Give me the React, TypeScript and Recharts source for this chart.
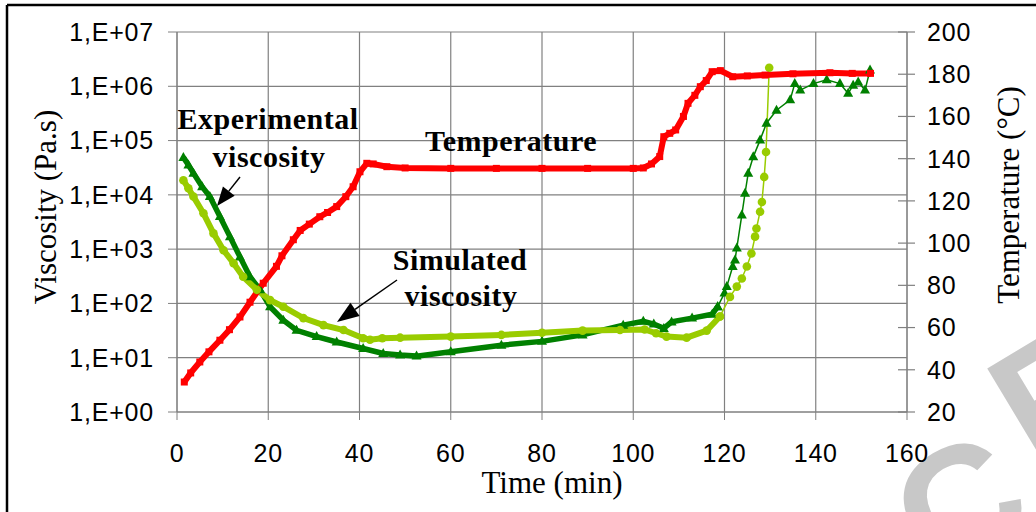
import React from 'react';
import { LineChart, Line, XAxis, YAxis, CartesianGrid } from 'recharts';

// axis ticks
const TIME_TICKS = [0, 20, 40, 60, 80, 100, 120, 140, 160];
const VISC_TICKS = [1, 10, 100, 1000, 10000, 100000, 1000000, 10000000];
const TEMP_TICKS = [20, 40, 60, 80, 100, 120, 140, 160, 180, 200];

// [time (min), temperature (°C)]
const temperature = [
  [1.6, 34.2], [3, 38.5], [5, 43.7], [7, 48.5], [9.4, 54], [11.5, 59], [13.8, 65],
  [16, 72], [18.9, 81], [21.8, 89], [23, 94], [25.5, 101.6], [27, 106], [29, 109],
  [31.3, 112.5], [33, 114.5], [35, 117.3], [37, 122], [38.6, 126.7], [40.1, 133.8],
  [41.6, 137.8], [43, 137.5], [46, 136.2], [50, 135.6], [60, 135.4], [70, 135.4],
  [80, 135.4], [90, 135.4], [100, 135.4], [102.2, 135.6], [104, 137.5], [105.8, 141],
  [106.7, 150.4], [108, 152], [109.3, 153.6], [111, 160], [112, 166.2], [113.5, 170],
  [114.7, 174.1], [116, 177], [117.3, 181.2], [119.1, 181.7], [121.8, 178.8],
  [125, 179.2], [128.9, 179.6], [135, 180.2], [143.1, 180.7], [148, 180.4], [152, 180.4],
];

// experimental viscosity (Pa.s), dense part and the sparse cure ramp
const expDense = [
  [1.4, 49000], [2.5, 35500], [3.6, 25100], [5.5, 14100], [7.2, 9300], [9.4, 4000],
  [11.6, 1700], [13.8, 720], [16, 310], [18.2, 178], [20.4, 87], [23.3, 49], [26.2, 32],
  [30.6, 24.5], [35, 19.5], [40.8, 14.8], [45.2, 12], [48.9, 11.2], [52.5, 10.7],
  [60, 12.9], [71.1, 17], [80, 20], [88.9, 26.3], [97.8, 39.8], [102.2, 46.8],
  [104.5, 41.7], [106.7, 34.7], [108.4, 45.7], [112.9, 53.7], [117.3, 63.1], [118.5, 87.1],
];
const expRamp = [
  [118.5, 87.1], [120, 155], [120.5, 204], [121.8, 479], [122.3, 631], [122.7, 1050],
  [123.8, 4270], [124.5, 10700], [125.2, 25100], [126.3, 50100], [127.8, 102000],
  [129.2, 209000], [131.4, 363000], [134.4, 562000], [135.4, 1120000], [136.6, 851000],
  [139.5, 1120000], [142.4, 1320000], [145.3, 1120000], [147.1, 741000],
  [148.2, 1050000], [149.3, 1200000], [150.8, 851000], [151.9, 2000000],
];

// simulated viscosity (Pa.s)
const simDense = [
  [1.4, 18600], [2.5, 13200], [3.6, 9300], [5.8, 4570], [8, 1950], [10.2, 955],
  [12.4, 550], [14.5, 310], [17.5, 178], [20.4, 115], [23.3, 87], [27.7, 53.7],
  [32.1, 39.8], [36.5, 32.4], [40.8, 22.9], [42.3, 21.4], [45, 22.9], [48.9, 23.4],
  [60, 24.5], [71.1, 26.3], [80, 28.8], [88.9, 31.6], [97.1, 32.4], [102.5, 33.1],
  [105, 28.2], [107.3, 24.5], [111.7, 23.4], [116.1, 31.6], [119, 57.5],
];
const simRamp = [
  [119, 57.5], [121.2, 132], [122.7, 204], [123.8, 288], [124.9, 479], [125.9, 832],
  [126.7, 1700], [127, 2400], [127.8, 4900], [128.2, 7400], [128.7, 21400],
  [129.1, 61700], [129.8, 2190000],
];

const toRows = (pairs) => pairs.map(([t, v]) => ({ t, v }));

const RED = '#FF0000';
const DARK_GREEN = '#008000';
const LIGHT_GREEN = '#99CC00';
const GRID = '#808080';
const SANS = '"Liberation Sans", Arial, sans-serif';
const SERIF = '"Liberation Serif", "Times New Roman", serif';

const tickStyle = { fill: '#000', fontSize: 25, fontFamily: SANS, letterSpacing: 0.8 };

const SquareDot = (props) => {
  const { cx, cy, index } = props;
  if (cx == null || cy == null) return null;
  return <rect key={`sq-${index}`} x={cx - 3.5} y={cy - 3.5} width={7} height={7} fill={RED} />;
};

const TriangleDot = (props) => {
  const { cx, cy, index } = props;
  if (cx == null || cy == null) return null;
  return (
    <polygon
      key={`tr-${index}`}
      points={`${cx},${cy - 5.5} ${cx - 5},${cy + 3.5} ${cx + 5},${cy + 3.5}`}
      fill={DARK_GREEN}
    />
  );
};

const CircleDot = (props) => {
  const { cx, cy, index } = props;
  if (cx == null || cy == null) return null;
  return <circle key={`ci-${index}`} cx={cx} cy={cy} r={4.3} fill={LIGHT_GREEN} />;
};

// right axis tick: the tick mark crosses the axis line, as in the original
const TempTick = (props) => {
  const { x, y, payload } = props;
  const axisX = x - 20;
  return (
    <g>
      <line x1={axisX - 9} y1={y} x2={axisX + 8} y2={y} stroke={GRID} strokeWidth={1.2} />
      <text x={x} y={y} dy="0.355em" textAnchor="start" style={tickStyle}>
        {payload.value}
      </text>
    </g>
  );
};

const viscLabel = (v) => {
  const p = Math.round(Math.log10(v));
  return `1,E+${p < 10 ? '0' : ''}${p}`;
};

const Arrow = ({ from, to, head = 20, width = 15 }) => {
  const [x1, y1] = from;
  const [x2, y2] = to;
  const len = Math.hypot(x2 - x1, y2 - y1);
  const ux = (x2 - x1) / len;
  const uy = (y2 - y1) / len;
  const bx = x2 - ux * head;
  const by = y2 - uy * head;
  const px = -uy * (width / 2);
  const py = ux * (width / 2);
  return (
    <g>
      <line x1={x1} y1={y1} x2={bx} y2={by} stroke="#000" strokeWidth={1.5} />
      <polygon points={`${x2},${y2} ${bx + px},${by + py} ${bx - px},${by - py}`} fill="#000" />
    </g>
  );
};

export default function App() {
  const boldText = { fontFamily: SERIF, fontWeight: 'bold', fontSize: 30, letterSpacing: 0.5, fill: '#000' };
  const titleText = { fontFamily: SERIF, fontSize: 31, fill: '#000' };

  return (
    <div style={{ position: 'absolute', left: 0, top: 0, width: 1036, height: 512, background: '#fff', overflow: 'hidden' }}>
      {/* watermark, behind the chart */}
      <svg width={1036} height={512} style={{ position: 'absolute', left: 0, top: 0 }}>
        <g fill="#c8c8c8" fontFamily={SANS} fontWeight="bold" fontSize={165}>
          <text x={822} y={590} textAnchor="middle" dominantBaseline="central" transform="rotate(-31 822 590)">S</text>
          <text x={960} y={505} textAnchor="middle" dominantBaseline="central" transform="rotate(-31 960 505)">C</text>
          <text x={1058} y={392} textAnchor="middle" dominantBaseline="central" transform="rotate(-31 1058 392)">R</text>
        </g>
      </svg>

      <LineChart
        width={1036}
        height={512}
        margin={{ top: 32, right: 29, bottom: 50, left: 77 }}
        style={{ position: 'absolute', left: 0, top: 0 }}
      >
        <CartesianGrid yAxisId="visc" stroke={GRID} strokeWidth={1.2} />
        <XAxis
          type="number"
          dataKey="t"
          domain={[0, 160]}
          ticks={TIME_TICKS}
          allowDataOverflow
          height={50}
          tickSize={8}
          tickMargin={24}
          stroke={GRID}
          tick={tickStyle}
        />
        <YAxis
          yAxisId="visc"
          scale="log"
          domain={[1, 10000000]}
          ticks={VISC_TICKS}
          allowDataOverflow
          width={100}
          tickSize={9}
          tickMargin={14}
          stroke={GRID}
          tick={tickStyle}
          tickFormatter={viscLabel}
        />
        <YAxis
          yAxisId="temp"
          orientation="right"
          domain={[20, 200]}
          ticks={TEMP_TICKS}
          allowDataOverflow
          width={100}
          tickSize={8}
          tickMargin={12}
          tickLine={false}
          stroke={GRID}
          tick={TempTick}
        />
        <Line
          yAxisId="visc"
          data={toRows(expDense)}
          dataKey="v"
          type="linear"
          stroke={DARK_GREEN}
          strokeWidth={5.5}
          dot={TriangleDot}
          isAnimationActive={false}
        />
        <Line
          yAxisId="visc"
          data={toRows(expRamp)}
          dataKey="v"
          type="linear"
          stroke={DARK_GREEN}
          strokeWidth={1.5}
          dot={TriangleDot}
          isAnimationActive={false}
        />
        <Line
          yAxisId="visc"
          data={toRows(simDense)}
          dataKey="v"
          type="linear"
          stroke={LIGHT_GREEN}
          strokeWidth={6}
          dot={CircleDot}
          isAnimationActive={false}
        />
        <Line
          yAxisId="visc"
          data={toRows(simRamp)}
          dataKey="v"
          type="linear"
          stroke={LIGHT_GREEN}
          strokeWidth={1.5}
          dot={CircleDot}
          isAnimationActive={false}
        />
        <Line
          yAxisId="temp"
          data={toRows(temperature)}
          dataKey="v"
          type="linear"
          stroke={RED}
          strokeWidth={6}
          dot={SquareDot}
          isAnimationActive={false}
        />
      </LineChart>

      <svg width={1036} height={512} style={{ position: 'absolute', left: 0, top: 0, pointerEvents: 'none' }}>
        {/* page frame */}
        <line x1={7} y1={5} x2={1036} y2={5} stroke="#000" strokeWidth={2.5} />
        <line x1={7} y1={5} x2={7} y2={512} stroke="#000" strokeWidth={2.5} />

        {/* axis titles */}
        <text x={552} y={482} textAnchor="middle" dominantBaseline="central" style={titleText}>Time (min)</text>
        <text x={45} y={207} textAnchor="middle" dominantBaseline="central" transform="rotate(-90 45 207)" style={titleText}>
          Viscosity (Pa.s)
        </text>
        <text x={1008} y={195} textAnchor="middle" dominantBaseline="central" transform="rotate(-90 1008 195)" style={titleText}>
          Temperature (°C)
        </text>

        {/* annotations */}
        <text x={268} y={118} textAnchor="middle" dominantBaseline="central" style={boldText}>Experimental</text>
        <text x={269} y={156} textAnchor="middle" dominantBaseline="central" style={boldText}>viscosity</text>
        <Arrow from={[240, 177]} to={[217, 206]} head={19} width={15} />

        <text x={511} y={140} textAnchor="middle" dominantBaseline="central" style={boldText}>Temperature</text>

        <text x={460} y={259} textAnchor="middle" dominantBaseline="central" style={boldText}>Simulated</text>
        <text x={461} y={295} textAnchor="middle" dominantBaseline="central" style={boldText}>viscosity</text>
        <Arrow from={[397, 280]} to={[337, 322]} head={22} width={16} />
      </svg>
    </div>
  );
}
